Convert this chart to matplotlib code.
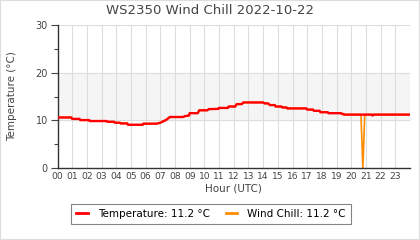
import matplotlib
matplotlib.use('Agg')
import matplotlib.pyplot as plt
from matplotlib.patches import Rectangle

# temperature (°C), as (hour, value) breakpoints
temp_hours = [0.0, 0.95, 1.0, 1.5, 1.55, 2.15, 2.2, 3.35, 3.4, 3.85, 3.9, 4.25,
              4.3, 4.75, 4.8, 5.8, 5.85, 6.75, 7.0, 7.4, 7.65, 8.55, 8.7, 8.95,
              9.0, 9.55, 9.65, 10.2, 10.3, 10.95, 11.0, 11.6, 11.65, 12.1, 12.2,
              12.55, 12.65, 14.0, 14.1, 14.35, 14.45, 14.8, 14.85, 15.25, 15.3,
              15.6, 15.65, 16.95, 17.0, 17.4, 17.45, 17.85, 17.9, 18.4, 18.45,
              19.3, 19.35, 19.45, 19.5, 21.4, 21.45, 21.5, 24.0]
temp_values = [10.6, 10.6, 10.3, 10.3, 10.05, 10.05, 9.85, 9.85, 9.7, 9.7, 9.5, 9.5,
               9.35, 9.35, 9.07, 9.07, 9.3, 9.3, 9.5, 10.1, 10.7, 10.7, 10.9, 11.0,
               11.5, 11.5, 12.1, 12.1, 12.35, 12.4, 12.6, 12.6, 12.9, 12.9, 13.4,
               13.4, 13.75, 13.75, 13.55, 13.55, 13.2, 13.2, 12.9, 12.9, 12.7,
               12.7, 12.5, 12.5, 12.25, 12.25, 12.0, 12.0, 11.7, 11.7, 11.5,
               11.5, 11.35, 11.35, 11.2, 11.2, 11.0, 11.2, 11.2]

# wind chill equals temperature except for one dropout sample
spike_hours = [20.66, 20.79, 20.92]
spike_values = [11.2, 0.0, 11.2]

hour_labels = [f'{h:02d}' for h in range(24)]
y_ticks = [0, 10, 20, 30]

TXT = '#444444'
GRID = '#dddddd'

pairs = sorted(zip(temp_hours + spike_hours, temp_values + spike_values))
wc_hours = [p[0] for p in pairs]
wc_values = [p[1] for p in pairs]

fig = plt.figure(figsize=(4.2, 2.4), dpi=100)
ax = fig.add_axes([57.5 / 420, 1 - 168 / 240, 352.5 / 420, 143 / 240])

ax.axhspan(10, 20, color='#f5f5f5', zorder=0)
for h in range(1, 25):
    ax.axvline(h, color=GRID, lw=0.8, zorder=1)
for v in y_ticks[1:]:
    ax.axhline(v, color=GRID, lw=0.8, zorder=1)

wc_line, = ax.plot(wc_hours, wc_values, color='#ff8c00', lw=1.2, zorder=2)
t_line, = ax.plot(temp_hours, temp_values, color='#ff0000', lw=1.7, zorder=3)

ax.set_xlim(0, 24)
ax.set_ylim(0, 30)
ax.set_xticks(range(24))
ax.set_xticklabels(hour_labels)
ax.set_yticks(y_ticks)
ax.set_yticks([5, 15, 25], minor=True)
ax.tick_params(axis='x', length=0, pad=3, labelsize=6.6, colors=TXT)
ax.tick_params(axis='y', which='major', length=5, width=0.8, pad=2,
               labelsize=7, colors=TXT)
ax.tick_params(axis='y', which='minor', length=3, width=0.8, colors=TXT)

for side in ('top', 'right'):
    ax.spines[side].set_visible(False)
for side in ('left', 'bottom'):
    ax.spines[side].set_color('#333333')
    ax.spines[side].set_linewidth(1.0)

ax.set_ylabel('Temperature (°C)', fontsize=7.5, color=TXT)
ax.yaxis.set_label_coords(-0.115, 0.5)
ax.set_xlabel('Hour (UTC)', fontsize=7.5, color=TXT)
ax.xaxis.set_label_coords(0.5, -0.105)

fig.text(0.5, 1 - 11 / 240, 'WS2350 Wind Chill 2022-10-22', ha='center',
         va='center', fontsize=9.5, color=TXT)

leg = fig.legend([t_line, wc_line],
                 [f'Temperature: {temp_values[-1]:.1f} °C',
                  f'Wind Chill: {wc_values[-1]:.1f} °C'],
                 loc='center', bbox_to_anchor=(211 / 420, 1 - 214 / 240), ncol=2,
                 fontsize=7.5, frameon=True, fancybox=False, edgecolor='#666666',
                 handlelength=1.1, handletextpad=1.0, columnspacing=1.5,
                 borderpad=0.5)
leg.get_frame().set_linewidth(0.8)
for line in leg.get_lines():
    line.set_linewidth(2.0)

fig.patches.append(Rectangle((0, 0), 1, 1, transform=fig.transFigure,
                             fill=False, edgecolor='#dddddd', lw=1.5))

fig.savefig('out.png', dpi=100)
